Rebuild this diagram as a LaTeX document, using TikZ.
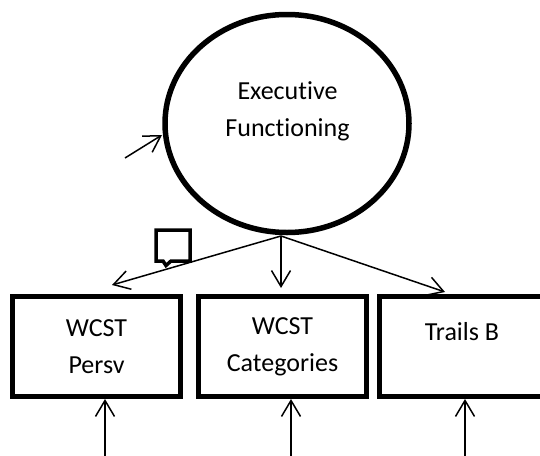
\documentclass[tikz,border=0pt]{standalone}
\usepackage{fontspec}
\setmainfont{Carlito}[Ligatures=NoCommon]
\usetikzlibrary{arrows.meta,shapes.geometric}
\begin{document}
\begin{tikzpicture}[x=1pt,y=-1pt,
  boxst/.style={draw, line width=5pt, minimum width=168pt, minimum height=100pt, inner sep=0pt, align=center, font=\fontsize{26}{37}\selectfont},
  lab/.style={align=center, inner sep=0pt, font=\fontsize{26}{37}\selectfont},
  arr/.style={line width=1.5pt, -{Straight Barb[length=16pt,width=19pt,line width=1.5pt]}}]
\useasboundingbox (0,0) rectangle (540,455);
\clip (0,0) rectangle (540,455);
% latent factor
\node[draw, ellipse, line width=5.5pt, minimum width=244pt, minimum height=218pt, inner sep=0pt] (ef) at (287,123.5) {};
\node[lab] (eflab) at (287.5,111.5) {Executive\\Functioning};
% indicator boxes
\node[boxst] (p1) at (96.5,346.5) {WCST\\Persv};
\node[boxst] (p2) at (282.5,346.5) {WCST\\Categories};
\node[boxst] (p3) at (463.5,346.5) {};
\node[lab] (p3lab) at (462,331.5) {Trails B};
% comment marker
\draw[line width=3.5pt, fill=white, line join=miter]
  (156,230) -- (190,230) -- (190,261) -- (171,261) -- (166,265.5) -- (163,261) -- (156,261) -- cycle;
% loadings
\coordinate (src) at (281,236);
\coordinate (t1) at (112,285);
\coordinate (t2) at (281,288);
\coordinate (t3) at (445,292);
\draw[arr] (src) -- (t1);
\draw[arr] (src) -- (t2);
\draw[arr] (src) -- (t3);
% disturbance of factor
\coordinate (d0) at (125,158);
\coordinate (d1) at (162,135);
\draw[arr] (d0) -- (d1);
% errors
\coordinate (e1) at (105,458);
\coordinate (e2) at (291,458);
\coordinate (e3) at (465,458);
\draw[arr] (e1) -- (e1 |- p1.south);
\draw[arr] (e2) -- (e2 |- p2.south);
\draw[arr] (e3) -- (e3 |- p3.south);
\end{tikzpicture}
\end{document}
